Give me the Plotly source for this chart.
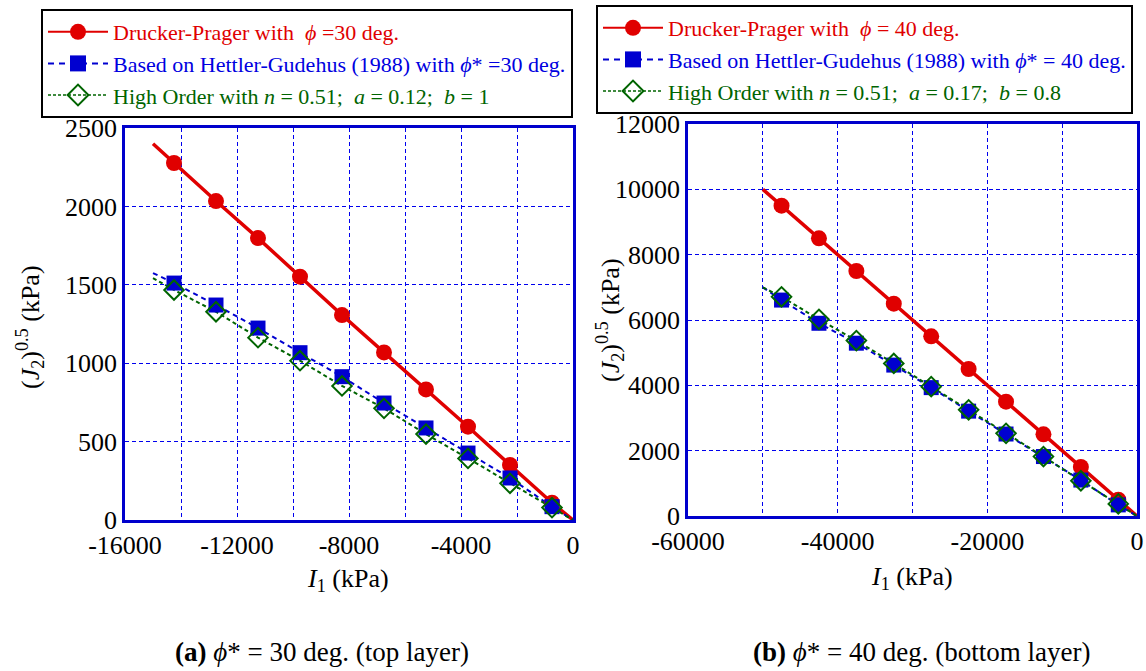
import plotly.graph_objects as go

# ---------------- data ----------------
# (a) phi* = 30 deg (top layer)
i1_a = [-14250, -12750, -11250, -9750, -8250, -6750, -5250, -3750, -2250, -750]
dp_a = [2277, 2034, 1798, 1552, 1307, 1069, 833, 595, 351, 110]
hg_a = [1511, 1371, 1224, 1067, 914, 746, 587, 427, 268, 85]
ho_a = [1467, 1328, 1163, 1016, 855, 712, 548, 393, 234, 79]
line_x_a = [-15000, 0]
dp_line_a = [2400, 0]
hg_line_a = [1575, 0]
ho_line_a = [1543, 0]

# (b) phi* = 40 deg (bottom layer)
i1_b = [-47500, -42500, -37500, -32500, -27500, -22500, -17500, -12500, -7500, -2500]
dp_b = [9500, 8500, 7500, 6500, 5500, 4500, 3500, 2500, 1500, 500]
hg_b = [6610, 5900, 5290, 4620, 3930, 3210, 2510, 1820, 1100, 340]
ho_b = [6710, 6020, 5370, 4670, 3960, 3250, 2530, 1820, 1080, 370]
line_x_b = [-50000, 0]
dp_line_b = [10000, 0]
hg_line_b = [7000, 0]
ho_line_b = [7000, 0]

# axes ticks
xt_a = list(range(-16000, 1, 2000))
xl_a = ["-16000", "", "-12000", "", "-8000", "", "-4000", "", "0"]
yt_a = [0, 500, 1000, 1500, 2000, 2500]
xt_b = list(range(-60000, 1, 10000))
xl_b = ["-60000", "", "-40000", "", "-20000", "", "0"]
yt_b = [0, 2000, 4000, 6000, 8000, 10000, 12000]

names_a = [
    '<span style="color:#E00000">Drucker-Prager with  <i>ϕ</i> =30 deg.</span>',
    '<span style="color:#0000E0">Based on Hettler-Gudehus (1988) with <i>ϕ</i>* =30 deg.</span>',
    '<span style="color:#006400">High Order with <i>n</i> = 0.51;  <i>a</i> = 0.12;  <i>b</i> = 1</span>',
]
names_b = [
    '<span style="color:#E00000">Drucker-Prager with  <i>ϕ</i> = 40 deg.</span>',
    '<span style="color:#0000E0">Based on Hettler-Gudehus (1988) with <i>ϕ</i>* = 40 deg.</span>',
    '<span style="color:#006400">High Order with <i>n</i> = 0.51;  <i>a</i> = 0.17;  <i>b</i> = 0.8</span>',
]

RED = "#E00000"
BLUE = "#0000D0"
GREEN = "#006400"
FONT = "Liberation Serif, serif"

styles = [
    dict(line=dict(color=RED, width=3.5), marker=dict(symbol="circle", size=16, color=RED)),
    dict(line=dict(color=BLUE, width=2, dash="5px,4px"), marker=dict(symbol="square", size=15, color=BLUE)),
    dict(line=dict(color=GREEN, width=2, dash="4px,3px"),
         marker=dict(symbol="diamond-open", size=15, color=GREEN, line=dict(width=2, color=GREEN))),
]
leg_styles = [
    dict(line=dict(color=RED, width=2), marker=dict(symbol="circle", size=17, color=RED)),
    dict(line=dict(color=BLUE, width=2, dash="6px,5px"), marker=dict(symbol="square", size=17, color=BLUE)),
    dict(line=dict(color=GREEN, width=1.5, dash="3px,2px"),
         marker=dict(symbol="diamond-open", size=16, color=GREEN, line=dict(width=2, color=GREEN))),
]

fig = go.Figure()

def add_panel(xm, series, lx, lines, names, xa, ya, legend):
    for k in range(3):
        fig.add_trace(go.Scatter(x=lx[:1] + xm + lx[1:], y=lines[k][:1] + series[k] + lines[k][1:],
                                 mode="lines", line=styles[k]["line"], showlegend=False,
                                 xaxis=xa, yaxis=ya, hoverinfo="skip"))
    for k in range(3):
        fig.add_trace(go.Scatter(x=xm, y=series[k], mode="markers", marker=styles[k]["marker"],
                                 showlegend=False, xaxis=xa, yaxis=ya))
    for k in range(3):
        fig.add_trace(go.Scatter(x=[None], y=[None], mode="lines+markers", name=names[k],
                                 line=leg_styles[k]["line"], marker=leg_styles[k]["marker"],
                                 xaxis=xa, yaxis=ya, legend=legend, showlegend=True))

add_panel(i1_a, [dp_a, hg_a, ho_a], line_x_a, [dp_line_a, hg_line_a, ho_line_a], names_a, "x", "y", "legend")
add_panel(i1_b, [dp_b, hg_b, ho_b], line_x_b, [dp_line_b, hg_line_b, ho_line_b], names_b, "x2", "y2", "legend2")

W, H = 1146, 671
def px(x):
    return x / W
def py(y):
    return 1 - y / H

grid = dict(showgrid=True, gridcolor="#0000EE", gridwidth=1.4, griddash="4px,3px",
            showline=True, linecolor="#0000CC", linewidth=2.5, mirror=True, zeroline=False,
            automargin=False, ticks="", tickfont=dict(family=FONT, size=26, color="black"))

leg = dict(font=dict(family=FONT, size=22, color="black"), bgcolor="white",
           bordercolor="black", borderwidth=2, itemwidth=60, tracegroupgap=0,
           xanchor="left", yanchor="top", itemclick=False)

fig.update_layout(
    width=W, height=H, autosize=False,
    margin=dict(l=0, r=0, t=0, b=0, autoexpand=False),
    paper_bgcolor="white", plot_bgcolor="white",
    font=dict(family=FONT, size=22, color="black"),
    xaxis=dict(domain=[px(125), px(573)], range=[-16000, 0], tickmode="array",
               tickvals=xt_a, ticktext=xl_a, anchor="y", **grid),
    yaxis=dict(domain=[py(520), py(128)], range=[0, 2500], tickmode="array",
               tickvals=yt_a, ticktext=[str(v) for v in yt_a], anchor="x", **grid),
    xaxis2=dict(domain=[px(688), px(1137)], range=[-60000, 0], tickmode="array",
                tickvals=xt_b, ticktext=xl_b, anchor="y2", **grid),
    yaxis2=dict(domain=[py(516), py(124)], range=[0, 12000], tickmode="array",
                tickvals=yt_b, ticktext=[str(v) for v in yt_b], anchor="x2", **grid),
    legend=dict(x=px(41), y=py(9), **leg),
    legend2=dict(x=px(596), y=py(5), **leg),
)

ann_font = dict(family=FONT, size=26, color="black")
cap_font = dict(family=FONT, size=27, color="black")
anns = [
    dict(x=px(348), y=py(580), text="<i>I</i><sub>1</sub> (kPa)", font=ann_font),
    dict(x=px(912), y=py(578), text="<i>I</i><sub>1</sub> (kPa)", font=ann_font),
    dict(x=px(30), y=py(327), text="(<i>J</i><sub>2</sub>)<sup>0.5</sup> (kPa)", textangle=-90, font=ann_font),
    dict(x=px(610), y=py(320), text="(<i>J</i><sub>2</sub>)<sup>0.5</sup> (kPa)", textangle=-90, font=ann_font),
    dict(x=px(322), y=py(652), text="<b>(a)</b> <i>ϕ</i>* = 30 deg. (top layer)", font=cap_font),
    dict(x=px(921), y=py(652), text="<b>(b)</b> <i>ϕ</i>* = 40 deg. (bottom layer)", font=cap_font),
]
for a in anns:
    fig.add_annotation(xref="paper", yref="paper", showarrow=False,
                       xanchor="center", yanchor="middle", **a)

fig.write_html("out.html")
